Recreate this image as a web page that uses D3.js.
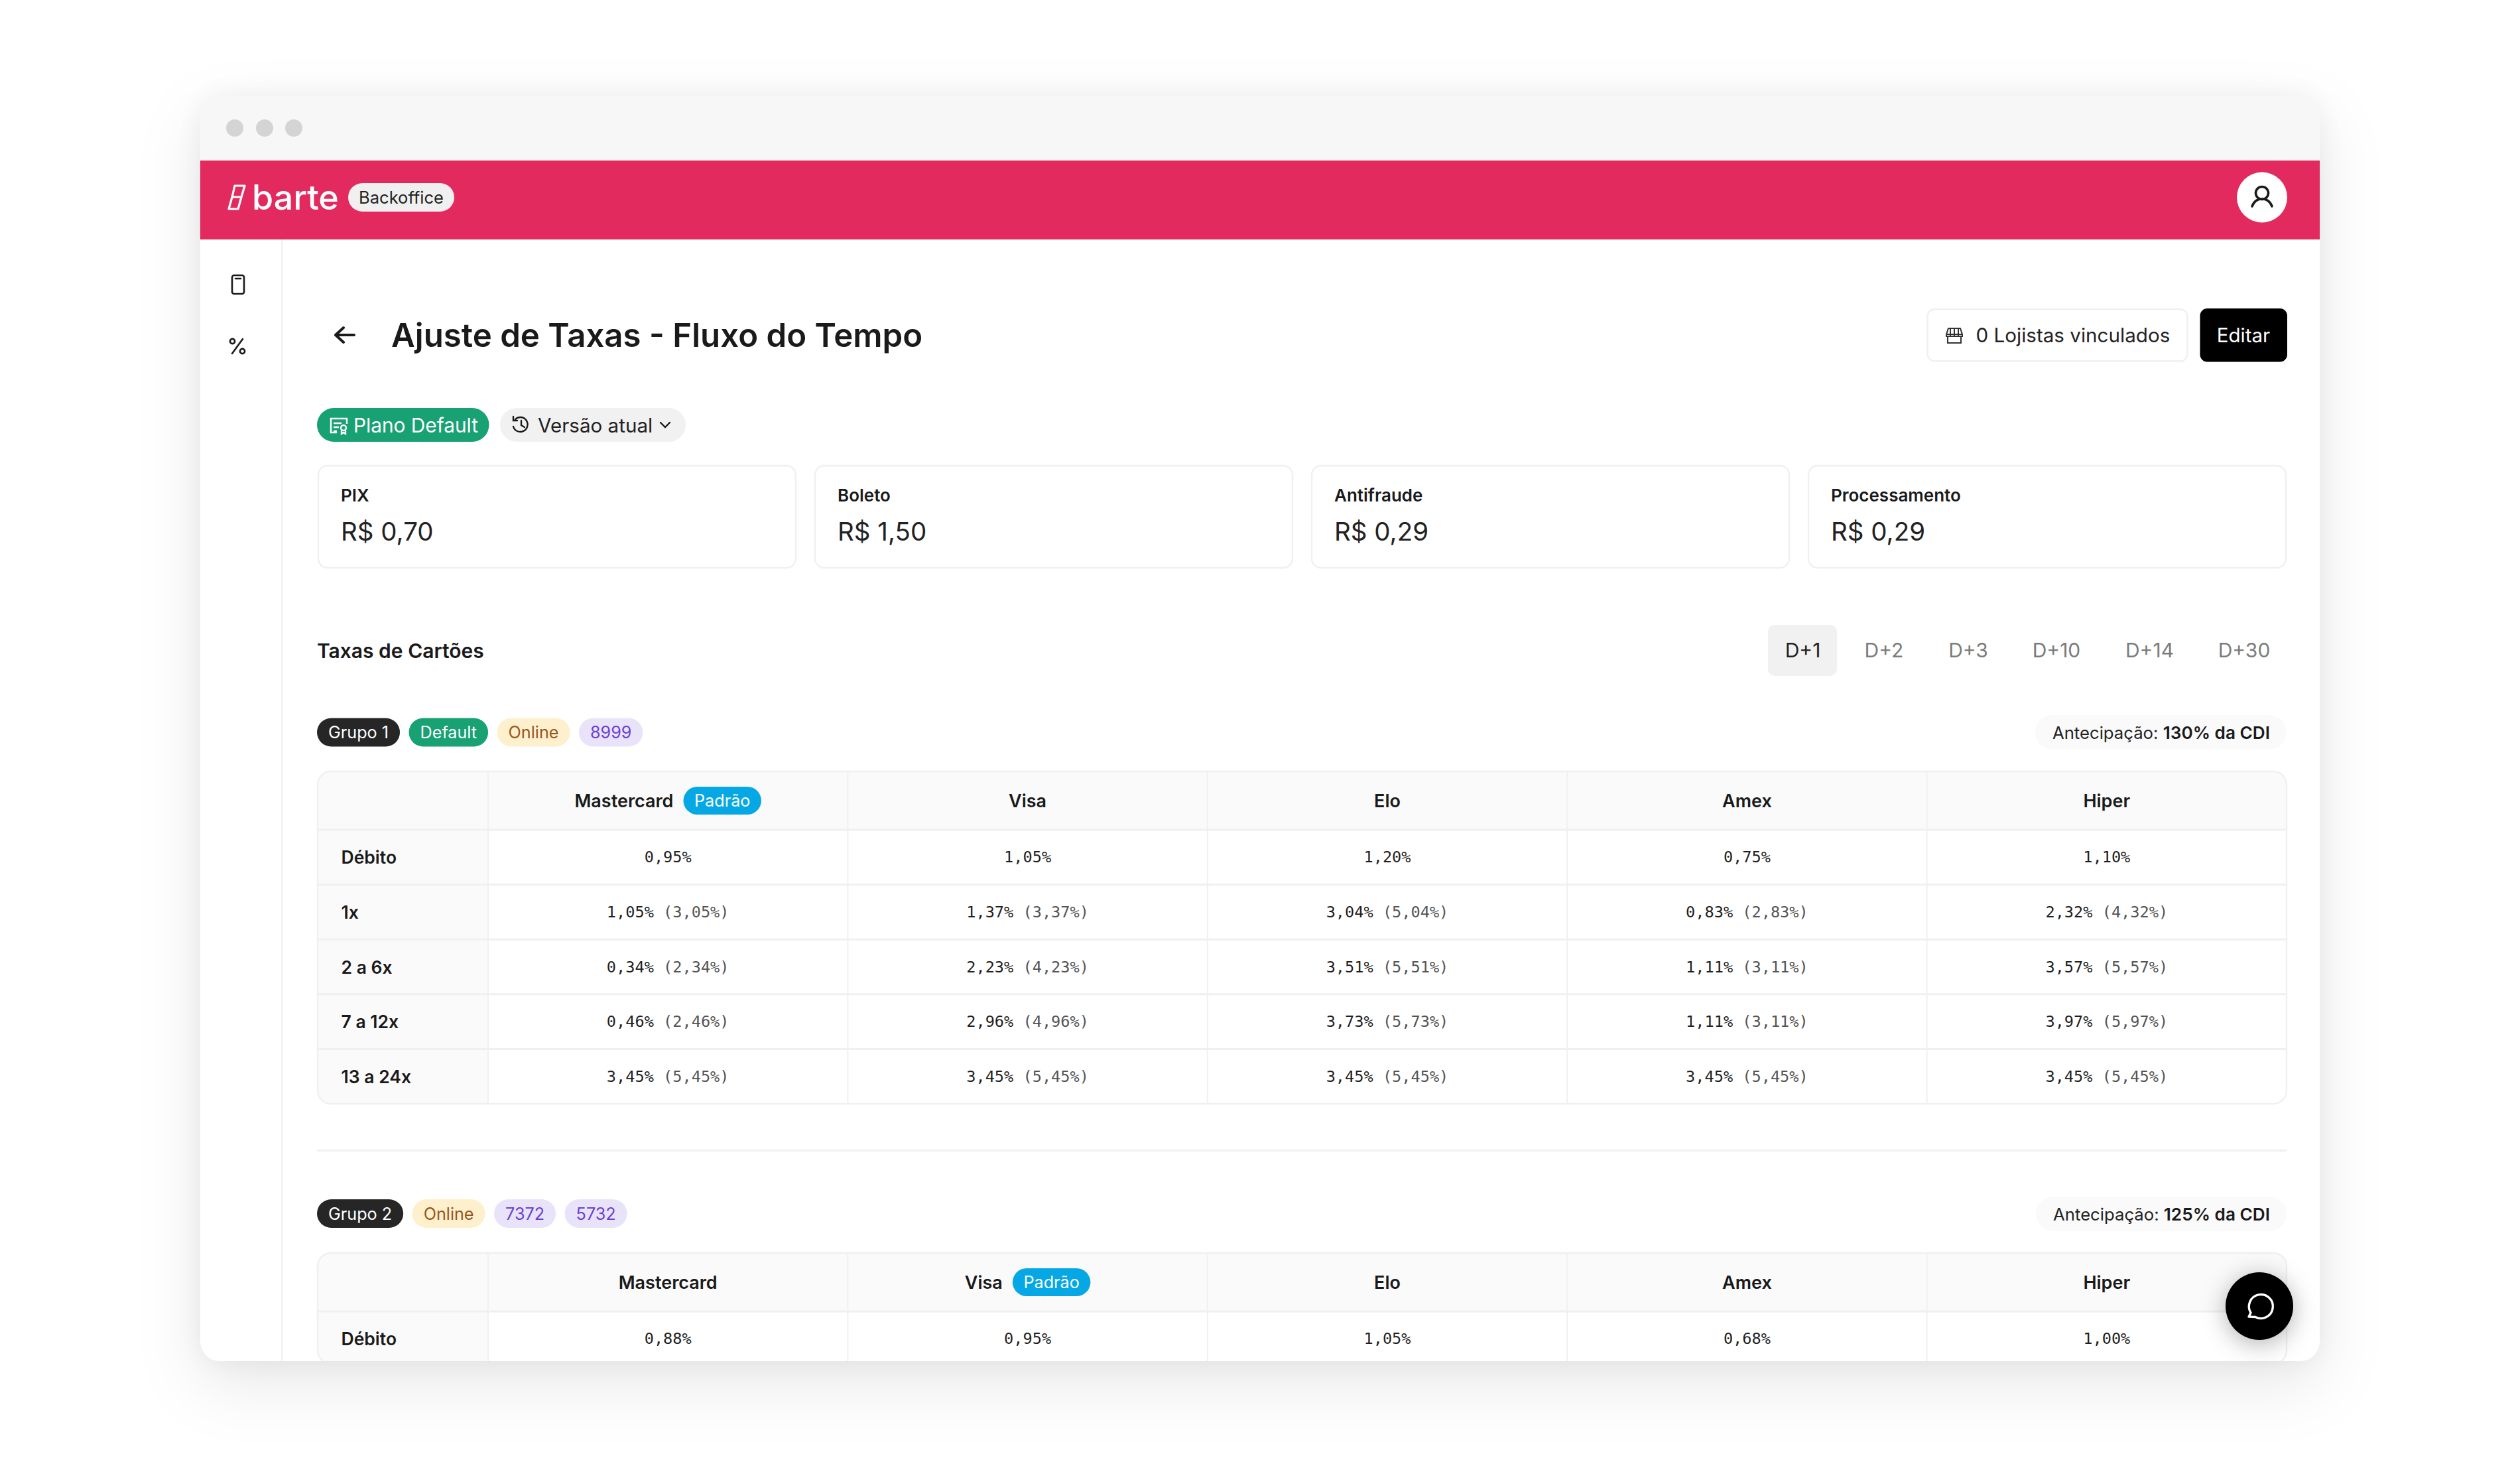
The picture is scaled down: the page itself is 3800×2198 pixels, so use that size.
<!DOCTYPE html>
<html><head><meta charset="utf-8">
<script src="https://cdn.jsdelivr.net/npm/d3@7/dist/d3.min.js"></script>
<style>html,body{margin:0;padding:0;background:#fff}svg{display:block}</style></head>
<body><div id="root"></div>
<script>
const brands = ["Mastercard","Visa","Elo","Amex","Hiper"];
const rowLabels = ["Débito","1x","2 a 6x","7 a 12x","13 a 24x"];
const group1Rates = [
  [0.95,1.05,1.20,0.75,1.10],
  [1.05,1.37,3.04,0.83,2.32],
  [0.34,2.23,3.51,1.11,3.57],
  [0.46,2.96,3.73,1.11,3.97],
  [3.45,3.45,3.45,3.45,3.45]];
const group1Totals = [
  [null,null,null,null,null],
  [3.05,3.37,5.04,2.83,4.32],
  [2.34,4.23,5.51,3.11,5.57],
  [2.46,4.96,5.73,3.11,5.97],
  [5.45,5.45,5.45,5.45,5.45]];
const group2Rates = [[0.88,0.95,1.05,0.68,1.00]];
const group2Totals = [[null,null,null,null,null]];
const feeLabels = ["PIX","Boleto","Antifraude","Processamento"];
const feeValues = [0.70,1.50,0.29,0.29];
const tabs = ["D+1","D+2","D+3","D+10","D+14","D+30"];
const group1Tags = [["Grupo 1","dark"],["Default","green"],["Online","cream"],["8999","lav"]];
const group2Tags = [["Grupo 2","dark"],["Online","cream"],["7372","lav"],["5732","lav"]];

const INK="#1a1a1a", LINE="#f0f0f0", SOFT="#fafafa";
const INTER="Inter, 'Noto Sans', sans-serif", MONO="'DejaVu Sans Mono', monospace";
const tagStyle={dark:["#262626","#fff"],green:["#18A172","#fff"],cream:["#FEF0CC","#96561B"],lav:["#E9E3FA","#6B3FD4"],blue:["#05A8E4","#fff"]};
const comma=d3.format(".2f");
const pct=v=>comma(v).replace(".",",")+"%";

const svg=d3.select("#root").append("svg").attr("width",3800).attr("height",2198).attr("viewBox","0 0 3800 2198");
const defs=svg.append("defs");
defs.append("clipPath").attr("id","win").append("rect").attr("x",302).attr("y",145).attr("width",3196).attr("height",1907).attr("rx",30);

function tx(g,x,y,s,o={}){
  return g.append("text").attr("x",x).attr("y",y).text(s)
    .attr("font-family",o.font||INTER).attr("font-size",o.size||26).attr("font-weight",o.weight||400)
    .attr("fill",o.fill||INK).attr("text-anchor",o.anchor||"start").attr("dominant-baseline","central");
}
function box(g,x,y,w,h,r,fill,stroke,sw){
  return g.append("rect").attr("x",x).attr("y",y).attr("width",w).attr("height",h).attr("rx",r)
    .attr("fill",fill).attr("stroke",stroke||"none").attr("stroke-width",sw||0);
}
function pill(g,x,y,h,s,kind,size,pad){
  const t=tx(g,x+pad,y+h/2,s,{size,fill:tagStyle[kind][1]});
  const w=t.node().getComputedTextLength()+pad*2;
  box(g,x,y,w,h,h/2,tagStyle[kind][0]);
  t.raise();
  return x+w;
}
function tagRow(g,x,y,tags){
  tags.forEach(([s,k])=>{x=pill(g,x,y,43,s,k,25.2,17)+13.5;});
}

// window + shadow
svg.append("rect").attr("x",302).attr("y",145).attr("width",3196).attr("height",1907).attr("rx",30).attr("fill","#fff")
  .style("filter","drop-shadow(0 0 24px rgba(0,0,0,.06)) drop-shadow(0 34px 48px rgba(0,0,0,.09))");
const w=svg.append("g").attr("clip-path","url(#win)");
w.append("rect").attr("x",302).attr("y",145).attr("width",3196).attr("height",97).attr("fill","#f7f7f7");
[354,399,443].forEach(x=>w.append("circle").attr("cx",x).attr("cy",193).attr("r",13).attr("fill","#d4d4d4"));
w.append("rect").attr("x",302).attr("y",242).attr("width",3196).attr("height",119).attr("fill","#E22A5E");
w.append("line").attr("x1",425).attr("x2",425).attr("y1",361).attr("y2",2052).attr("stroke",LINE).attr("stroke-width",2);

// logo
const logo=w.append("g").attr("fill","none").attr("stroke","#fff").attr("stroke-width",3.2).attr("stroke-linejoin","round");
logo.append("path").attr("d","M354 280h15l-5 17h-14zM350 297h14l-5 18h-14z");
tx(w,380,297,"barte",{size:52,weight:500,fill:"#fff"});
box(w,525,276,160,43,21.5,"#F0F0F0");
tx(w,605,297.5,"Backoffice",{size:25.5,anchor:"middle",weight:400,fill:"#222"});

// avatar
w.append("circle").attr("cx",3411).attr("cy",297.5).attr("r",38).attr("fill","#fff");
const av=w.append("g").attr("fill","none").attr("stroke",INK).attr("stroke-width",3.6).attr("stroke-linecap","round");
av.append("circle").attr("cx",3411).attr("cy",291).attr("r",9.5);
av.append("path").attr("d","M3396 311c3-8 8-11 15-11s12 3 15 11");

// sidebar icons
const si=w.append("g").attr("fill","none").attr("stroke",INK).attr("stroke-width",2.6).attr("stroke-linecap","round");
box(si,350,415,18,28,3,"none",INK,2.6);
si.append("line").attr("x1",355).attr("x2",363).attr("y1",420).attr("y2",420);
si.append("line").attr("x1",366).attr("x2",350).attr("y1",511).attr("y2",533);
si.append("circle").attr("cx",350.5).attr("cy",514.5).attr("r",3.6);
si.append("circle").attr("cx",365.5).attr("cy",529.5).attr("r",3.6);

// title row
w.append("path").attr("d","M534 505H507M518 494l-12 11 12 11").attr("fill","none").attr("stroke",INK).attr("stroke-width",4).attr("stroke-linecap","round").attr("stroke-linejoin","round");
tx(w,590,505,"Ajuste de Taxas - Fluxo do Tempo",{size:49.2,weight:600,fill:INK});
box(w,2906.5,466,392,78.5,11,"#fff","#f0f0f0",2.4);
const st=w.append("g").attr("fill","none").attr("stroke","#333").attr("stroke-width",2);
st.append("path").attr("d","M2938 495h18l3 9v3h-24v-3zM2937 507v10h20v-10M2935 504h24M2941 495v12M2947 495v12M2953 495v12");
tx(w,2979.5,505,"0 Lojistas vinculados",{size:29.6,fill:"#222"});
box(w,3317.5,465,131.5,80.5,11,"#000");
tx(w,3383,505,"Editar",{size:29.5,anchor:"middle",fill:"#fff"});

// plan pills
box(w,478,615,259.5,51,25.5,"#18A172");
const pi=w.append("g").attr("fill","none").attr("stroke","#fff").attr("stroke-width",2.4);
pi.append("path").attr("d","M508 652h-9v-21h24v8M503 638h12M503 644h8M503 650h5");
pi.append("circle").attr("cx",518).attr("cy",645).attr("r",4);
pi.append("path").attr("d","M515 649v5l3-2 3 2v-5");
tx(w,533,640.5,"Plano Default",{size:29.8,fill:"#fff"});
box(w,754,615,280,51,25.5,"#F1F1F1");
const ve=w.append("g").attr("fill","none").attr("stroke",INK).attr("stroke-width",2.4).attr("stroke-linecap","round");
ve.append("path").attr("d","M777 632a11 11 0 1 1 -3 11M774 628v6h6M786 634v7l5 3");
tx(w,811,640.5,"Versão atual",{size:29.6,fill:"#222"});
ve.append("path").attr("d","M996 637l7 7 7-7");

// fee cards
const cardX=d3.scaleBand().domain(feeLabels).range([479,3448]).paddingInner(27/749);
feeLabels.forEach((l,i)=>{
  const x=cardX(l);
  box(w,x+1,702,cardX.bandwidth()-2,154,14,"#fff","#f0f0f0",2.4);
  tx(w,x+35,746,l,{size:26,weight:600});
  tx(w,x+35,801,"R$ "+comma(feeValues[i]).replace(".",","),{size:38.5,fill:"#222"});
});

// section head
tx(w,478,981,"Taxas de Cartões",{size:30,weight:600});
const tabC=[2718.5,2841,2968,3101,3241.5,3384];
const tabScale=d3.scaleOrdinal().domain(tabs).range(tabC);
box(w,2666,942,104,77,10,"#F1F1F1");
tabs.forEach((t,i)=>tx(w,tabScale(t),980,t,{size:30,anchor:"middle",fill:i?"#7b7b7b":"#222"}));

function antecipacao(y0,y1,pctText){
  const yc=(y0+y1)/2;
  const t2=tx(w,3423,yc,pctText,{size:26.2,weight:600,anchor:"end"});
  const b=t2.node().getComputedTextLength();
  const t1=tx(w,3423-b,yc,"Antecipação: ",{size:25.7,anchor:"end",fill:"#222"});
  t1.attr("xml:space","preserve").style("white-space","pre");
  const a=t1.node().getComputedTextLength();
  box(w,3423-b-a-26,y0,a+b+51,y1-y0,(y1-y0)/2,SOFT);
  t1.raise();t2.raise();
}

function drawTable(top,rates,totals,padrao,bottomOpen){
  const rowStep=82.6, hdr=88;
  const labels=rowLabels.slice(0,rates.length);
  const x=d3.scaleBand().domain(brands).range([736,3448]);
  const y=d3.scaleBand().domain(labels).range([top+hdr,top+hdr+rowStep*labels.length]);
  const bottom=bottomOpen?2056:top+hdr+rowStep*labels.length;
  const g=w.append("g");
  box(g,479,top,2969,bottom-top,20,"#fff");
  const clipId="t"+top;
  defs.append("clipPath").attr("id",clipId).append("rect").attr("x",479).attr("y",top).attr("width",2969).attr("height",bottom-top).attr("rx",20);
  const c=g.append("g").attr("clip-path",`url(#${clipId})`);
  c.append("rect").attr("x",479).attr("y",top).attr("width",2969).attr("height",hdr).attr("fill",SOFT);
  c.append("rect").attr("x",479).attr("y",top).attr("width",257).attr("height",bottom-top).attr("fill",SOFT);
  // grid
  c.selectAll(".vl").data(brands).join("line").attr("x1",d=>x(d)).attr("x2",d=>x(d)).attr("y1",top).attr("y2",bottom).attr("stroke",LINE).attr("stroke-width",2);
  c.selectAll(".hl").data(labels).join("line").attr("x1",479).attr("x2",3448).attr("y1",d=>y(d)).attr("y2",d=>y(d)).attr("stroke",LINE).attr("stroke-width",3);
  g.append("rect").attr("x",479).attr("y",top).attr("width",2969).attr("height",bottom-top).attr("rx",20).attr("fill","none").attr("stroke",LINE).attr("stroke-width",2.4);
  // header
  brands.forEach((b,i)=>{
    const cx=x(b)+x.bandwidth()/2, yc=top+hdr/2;
    if(i===padrao){
      const t=tx(g,0,yc,b,{size:27,weight:600});
      const tw=t.node().getComputedTextLength(), pw=117.5, total=tw+15+pw, x0=cx-total/2;
      t.attr("x",x0);
      box(g,x0+tw+15,yc-21,pw,42,21,tagStyle.blue[0]);
      tx(g,x0+tw+15+pw/2,yc,"Padrão",{size:25.2,anchor:"middle",fill:"#fff"});
    } else tx(g,cx,yc,b,{size:27,weight:600,anchor:"middle"});
  });
  // rows
  labels.forEach((l,r)=>{
    const yc=y(l)+y.bandwidth()/2;
    tx(g,514.5,yc,l,{size:26.5,weight:600});
    brands.forEach((b,i)=>{
      const t=g.append("text").attr("x",x(b)+x.bandwidth()/2).attr("y",yc).attr("text-anchor","middle").attr("dominant-baseline","central")
        .attr("font-family",MONO).attr("font-size",23.6).attr("fill","#1f1f1f").text(pct(rates[r][i]));
      if(totals[r][i]!=null) t.append("tspan").attr("fill","#555").text(" ("+pct(totals[r][i])+")");
    });
  });
}

// group 1
tagRow(w,478,1082.5,group1Tags);
antecipacao(1078,1130,"130% da CDI");
drawTable(1163,group1Rates,group1Totals,0,false);

w.append("line").attr("x1",478).attr("x2",3448).attr("y1",1734.5).attr("y2",1734.5).attr("stroke",LINE).attr("stroke-width",3);

// group 2
tagRow(w,478,1808,group2Tags);
antecipacao(1804,1856,"125% da CDI");
drawTable(1889,group2Rates,group2Totals,1,true);

// chat
svg.append("circle").attr("cx",3407).attr("cy",1969).attr("r",51).attr("fill","#000")
  .style("filter","drop-shadow(0 6px 18px rgba(0,0,0,.3))");
svg.append("path").attr("d","M3391 1986l3-6a18 18 0 1 1 7 6.5z").attr("transform","translate(0,-1)").attr("fill","none").attr("stroke","#fff").attr("stroke-width",3.4).attr("stroke-linejoin","round");
</script></body></html>
